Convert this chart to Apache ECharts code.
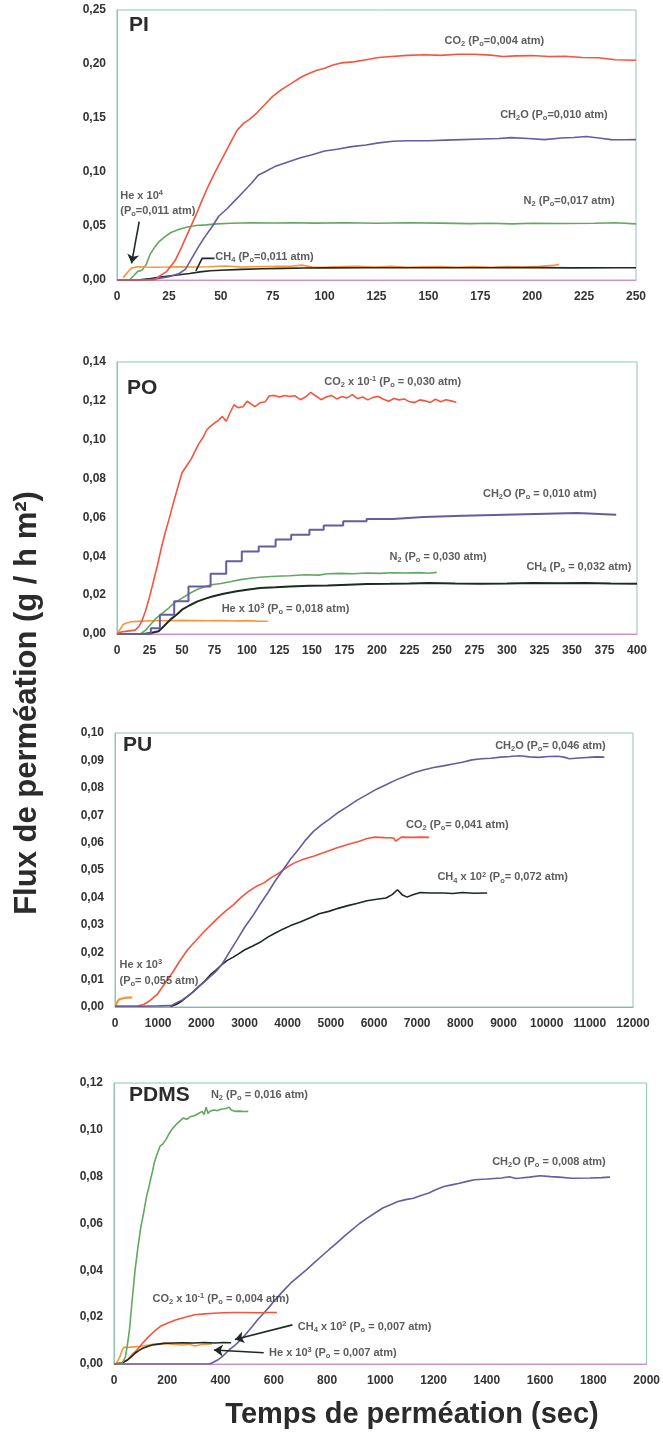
<!DOCTYPE html>
<html><head><meta charset="utf-8">
<script src="https://cdn.jsdelivr.net/npm/echarts@6/dist/echarts.min.js"></script>
<style>html,body{margin:0;padding:0;background:#fff}#c{width:663px;height:1439px}</style>
</head><body><div id="c"></div>
<script>
// ---------- axis ranges ----------
const PANEL_NAMES = ['PI','PO','PU','PDMS'];
const X_MAX = [250, 400, 12000, 2000];
const X_INTERVAL = [25, 25, 1000, 200];
const Y_MAX = [0.25, 0.14, 0.10, 0.12];
const Y_INTERVAL = [0.05, 0.02, 0.01, 0.02];

// ---------- PI ----------
const PI_CO2 = [[0,0],[18,0],[20,0.003],[24,0.008],[28,0.018],[31,0.030],[34,0.043],[38,0.060],[41,0.074],[44,0.087],[47,0.099],[50,0.110],[53,0.121],[56,0.132],[58,0.139],[61,0.145],[64,0.149],[67,0.154],[71,0.162],[75,0.170],[79,0.176],[84,0.182],[88,0.187],[91,0.190],[96,0.194],[100,0.196],[104,0.199],[108,0.201],[114,0.202],[120,0.204],[126,0.206],[132,0.207],[140,0.208],[148,0.2085],[156,0.208],[164,0.209],[172,0.209],[180,0.2082],[186,0.207],[192,0.2075],[200,0.2078],[208,0.207],[216,0.2072],[224,0.206],[232,0.2058],[240,0.204],[250,0.2035]];
const PI_CH2O = [[0,0],[15,0],[20,0.0015],[25,0.003],[30,0.006],[33,0.010],[36,0.020],[39,0.030],[42,0.039],[46,0.050],[49,0.059],[53,0.066],[57,0.074],[61,0.082],[65,0.090],[68,0.097],[72,0.101],[76,0.105],[82,0.109],[88,0.113],[94,0.116],[100,0.1195],[106,0.121],[113,0.1235],[120,0.125],[126,0.127],[133,0.1285],[140,0.129],[150,0.129],[158,0.1295],[166,0.130],[176,0.1306],[184,0.131],[190,0.1318],[198,0.131],[206,0.130],[214,0.1315],[220,0.132],[226,0.1328],[232,0.1315],[238,0.130],[244,0.1298],[250,0.130]];
const PI_N2 = [[0,0],[6,0],[8,0.004],[10,0.008],[12,0.009],[14,0.014],[16,0.024],[18,0.030],[20,0.035],[23,0.040],[26,0.044],[30,0.047],[34,0.049],[38,0.0505],[43,0.051],[48,0.052],[55,0.0525],[65,0.053],[75,0.0528],[85,0.053],[95,0.0527],[110,0.053],[125,0.0525],[140,0.053],[155,0.0527],[170,0.0522],[180,0.0525],[190,0.052],[200,0.0525],[215,0.0523],[230,0.0525],[240,0.053],[250,0.052]];
const PI_HE = [[3,0.002],[5,0.007],[7,0.011],[10,0.0123],[14,0.012],[18,0.0118],[24,0.012],[30,0.0123],[36,0.0121],[44,0.0122],[52,0.013],[60,0.012],[68,0.0125],[76,0.0126],[84,0.0128],[89,0.0138],[94,0.012],[100,0.0118],[108,0.0125],[116,0.0128],[124,0.012],[132,0.0127],[140,0.0118],[148,0.0122],[156,0.0125],[164,0.0118],[172,0.0124],[180,0.0118],[188,0.0125],[196,0.012],[204,0.0126],[210,0.0135],[213,0.0145]];
const PI_CH4 = [[0,0],[10,0],[15,0.001],[20,0.0025],[25,0.0037],[30,0.0048],[35,0.006],[40,0.0075],[45,0.0085],[50,0.009],[60,0.0098],[70,0.0104],[80,0.0108],[90,0.0111],[100,0.0112],[120,0.0114],[140,0.0113],[160,0.0114],[180,0.0113],[200,0.0115],[220,0.0112],[240,0.0114],[250,0.0114]];
const PI_LABELS = [
  ['CO{s|2} (P{s|o}=0,004 atm)', 182, 0.221, 'center'],
  ['CH{s|2}O (P{s|o}=0,010 atm)', 210.7, 0.152, 'center'],
  ['N{s|2} (P{s|o}=0,017 atm)', 218, 0.0725, 'center'],
  ['He x 10{p|4}', 1.8, 0.0778, 'left'],
  ['(P{s|o}=0,011 atm)', 1.8, 0.0639, 'left'],
  ['CH{s|4} (P{s|o}=0,011 atm)', 47.6, 0.0207, 'left']
];
const PI_ARROWS = [[[10.7,0.054],[7,0.0154]]];
const PI_LEADERS = [[[47,0.020],[41,0.020],[38,0.0085]]];

// ---------- PO ----------
const PO_CO2 = [[0,0],[3,0.001],[8,0.0015],[14,0.002],[17,0.004],[19,0.0065],[22,0.012],[25,0.019],[28,0.027],[31,0.035],[34,0.044],[37,0.052],[40,0.059],[44,0.069],[47,0.076],[50,0.083],[54,0.087],[57,0.090],[60,0.094],[63,0.098],[66,0.101],[69,0.105],[72,0.107],[75,0.1086],[78,0.110],[81,0.112],[84,0.1095],[87,0.114],[90,0.118],[93,0.1165],[97,0.117],[100,0.1198],[103,0.1185],[106,0.117],[110,0.119],[114,0.1195],[117,0.1225],[121,0.1228],[125,0.122],[129,0.1228],[133,0.1222],[137,0.1226],[141,0.1206],[145,0.122],[149,0.1244],[153,0.1225],[157,0.1206],[161,0.122],[165,0.1228],[169,0.121],[173,0.1222],[177,0.1215],[181,0.1232],[185,0.1212],[189,0.122],[193,0.1205],[197,0.1218],[201,0.1222],[205,0.1208],[209,0.1198],[213,0.1212],[217,0.1205],[221,0.121],[225,0.1195],[229,0.1192],[233,0.1205],[237,0.12],[241,0.1192],[245,0.1208],[249,0.1195],[253,0.1206],[257,0.12],[261,0.1193]];
const PO_CH2O = [[0,0],[20,0],[26,0.003],[33,0.0099],[44,0.0168],[55,0.0245],[72,0.031],[84,0.0374],[96,0.0425],[109,0.0451],[122,0.0486],[134,0.0511],[148,0.0537],[159,0.0559],[174,0.058],[192,0.0592],[212,0.0602],[236,0.0609],[266,0.0614],[298,0.0623],[354,0.0614],[384,0.0612]];
const PO_N2 = [[0,0],[18,0],[22,0.002],[26,0.005],[30,0.008],[35,0.0108],[40,0.0135],[44,0.016],[50,0.0185],[56,0.021],[62,0.023],[68,0.0245],[74,0.0255],[80,0.026],[88,0.027],[95,0.028],[104,0.0288],[112,0.0293],[122,0.0297],[133,0.030],[145,0.0305],[155,0.0303],[162,0.031],[172,0.0312],[182,0.031],[192,0.0314],[202,0.0312],[212,0.0315],[222,0.0314],[232,0.0316],[240,0.0313],[246,0.0317]];
const PO_CH4 = [[0,0],[20,0],[26,0.0005],[32,0.0014],[36,0.004],[41,0.0074],[46,0.010],[50,0.0125],[56,0.0148],[62,0.0168],[68,0.0182],[74,0.0194],[82,0.0207],[92,0.022],[100,0.0228],[110,0.0237],[122,0.0241],[133,0.0245],[148,0.0248],[162,0.025],[178,0.0254],[192,0.0257],[210,0.0258],[225,0.026],[240,0.0263],[260,0.026],[280,0.0259],[300,0.026],[320,0.0262],[340,0.0261],[360,0.0263],[380,0.026],[400,0.0259]];
const PO_HE = [[0,0],[3,0.003],[5,0.005],[7.4,0.0057],[11,0.0063],[15,0.0065],[22,0.0067],[30,0.0069],[40,0.0068],[50,0.007],[60,0.0069],[70,0.0068],[80,0.0069],[90,0.0067],[100,0.0069],[110,0.0066],[116,0.0066]];
const PO_LABELS = [
  ['CO{s|2} x 10{p|-1} (P{s|o} = 0,030 atm)', 212.5, 0.1295, 'center'],
  ['CH{s|2}O (P{s|o} = 0,010 atm)', 325.6, 0.0717, 'center'],
  ['N{s|2} (P{s|o} = 0,030 atm)', 247.4, 0.0396, 'center'],
  ['CH{s|4} (P{s|o} = 0,032 atm)', 355.7, 0.0345, 'center'],
  ['He x 10{p|3} (P{s|o} = 0,018 atm)', 130, 0.0125, 'center']
];

// ---------- PU ----------
const PU_CH2O = [[0,0.0003],[600,0.0003],[1000,0.0004],[1300,0.0005],[1415,0.0015],[1550,0.0025],[1680,0.0039],[1810,0.0055],[1945,0.0075],[2080,0.0093],[2211,0.0112],[2340,0.013],[2476,0.0155],[2650,0.020],[2830,0.0246],[3000,0.029],[3184,0.0331],[3360,0.0375],[3537,0.0416],[3710,0.046],[3891,0.050],[4068,0.054],[4245,0.0574],[4420,0.061],[4598,0.0641],[4780,0.0665],[4952,0.0684],[5170,0.071],[5394,0.0732],[5610,0.0755],[5837,0.0775],[6060,0.0795],[6279,0.0811],[6500,0.0828],[6721,0.0842],[6940,0.0856],[7163,0.0866],[7380,0.0874],[7605,0.088],[7830,0.0887],[8047,0.0893],[8270,0.0902],[8490,0.0906],[8710,0.0908],[8932,0.0912],[9150,0.0914],[9374,0.0917],[9600,0.0913],[9816,0.0911],[10040,0.0914],[10258,0.0915],[10400,0.0912],[10524,0.0906],[10750,0.0909],[10966,0.0911],[11150,0.0913],[11337,0.0912]];
const PU_CO2 = [[0,0.0003],[500,0.0003],[663,0.0009],[800,0.0022],[973,0.0045],[1150,0.0085],[1326,0.0124],[1500,0.0168],[1680,0.0209],[1860,0.024],[2034,0.027],[2210,0.0298],[2388,0.0325],[2560,0.035],[2741,0.0373],[2920,0.040],[3095,0.0422],[3270,0.044],[3449,0.0453],[3620,0.0472],[3803,0.0489],[3980,0.051],[4156,0.0526],[4380,0.054],[4598,0.055],[4860,0.0565],[5129,0.058],[5390,0.0593],[5659,0.0605],[5840,0.0615],[6013,0.062],[6250,0.0618],[6456,0.0617],[6500,0.0605],[6560,0.0612],[6632,0.062],[6900,0.0619],[7100,0.062],[7278,0.0619]];
const PU_CH4 = [[1282,0.0002],[1415,0.0009],[1550,0.0022],[1680,0.0039],[1810,0.0055],[1945,0.0075],[2080,0.0095],[2211,0.0118],[2340,0.0135],[2476,0.0155],[2600,0.017],[2741,0.0182],[2870,0.0195],[3007,0.0209],[3180,0.0222],[3360,0.0236],[3540,0.0255],[3714,0.027],[3900,0.0285],[4068,0.0297],[4290,0.031],[4510,0.0325],[4730,0.034],[4952,0.0349],[5170,0.036],[5394,0.037],[5600,0.0378],[5837,0.0388],[6060,0.0393],[6279,0.0398],[6420,0.041],[6544,0.0428],[6650,0.041],[6765,0.0401],[6900,0.041],[7075,0.0418],[7300,0.0416],[7605,0.0416],[7830,0.0414],[8047,0.0418],[8300,0.0415],[8622,0.0416]];
const PU_HE = [[20,0.0005],[40,0.0015],[90,0.0027],[160,0.0031],[221,0.0033],[300,0.0034],[398,0.0035]];
const PU_LABELS = [
  ['CH{s|2}O (P{s|o}= 0,046 atm)', 10099, 0.0951, 'center'],
  ['CO{s|2} (P{s|o}= 0,041 atm)', 7941, 0.0662, 'center'],
  ['CH{s|4} x 10{p|2} (P{s|o}= 0,072 atm)', 8993, 0.0471, 'center'],
  ['He x 10{p|3}', 115, 0.0151, 'left'],
  ['(P{s|o}= 0,055 atm)', 115, 0.0094, 'left']
];

// ---------- PDMS ----------
const PDMS_N2 = [[0,0],[29,0],[43,0.0031],[50,0.008],[58,0.0145],[68,0.027],[79,0.040],[90,0.050],[101,0.0587],[112,0.065],[122,0.0715],[130,0.075],[137,0.0787],[144,0.082],[151,0.0858],[160,0.089],[173,0.093],[184,0.094],[195,0.0958],[205,0.098],[216,0.100],[231,0.102],[245,0.1035],[259,0.105],[274,0.1045],[288,0.1057],[302,0.106],[317,0.107],[331,0.1079],[338,0.1065],[346,0.1097],[353,0.107],[360,0.1079],[375,0.1085],[389,0.1082],[403,0.1089],[418,0.109],[432,0.1097],[440,0.1085],[454,0.1079],[470,0.108],[490,0.1078],[504,0.1079]];
const PDMS_CO2 = [[0,0],[30,0.0005],[50,0.0017],[68,0.004],[86,0.006],[108,0.009],[130,0.0117],[152,0.014],[173,0.016],[202,0.0175],[231,0.0188],[267,0.020],[303,0.021],[340,0.0214],[375,0.0217],[411,0.0219],[447,0.022],[490,0.022],[540,0.0219],[580,0.022],[612,0.022]];
const PDMS_CH4 = [[0,0],[29,0.0003],[50,0.0017],[65,0.003],[79,0.0046],[94,0.0058],[108,0.0067],[126,0.0075],[144,0.0081],[165,0.0085],[187,0.0088],[220,0.009],[259,0.0091],[300,0.009],[340,0.0092],[380,0.009],[410,0.0092],[440,0.0091]];
const PDMS_HE = [[7,0],[15,0.0015],[22,0.003],[29,0.0055],[36,0.0071],[60,0.0072],[86,0.0074],[108,0.0077],[130,0.0081],[150,0.0085],[170,0.0083],[187,0.0088],[210,0.0086],[230,0.0083],[259,0.0081],[280,0.0085],[303,0.0077],[325,0.0082],[345,0.0085],[367,0.0086]];
const PDMS_CH2O = [[0,0],[200,0],[360,0],[367,0.0003],[389,0.0017],[410,0.0035],[432,0.006],[454,0.008],[476,0.0103],[497,0.013],[519,0.016],[540,0.019],[562,0.0217],[584,0.0245],[605,0.0274],[634,0.031],[663,0.0345],[691,0.0372],[720,0.040],[749,0.043],[778,0.0459],[807,0.0488],[836,0.0516],[864,0.0545],[893,0.0573],[922,0.060],[951,0.0623],[980,0.0645],[1009,0.0666],[1038,0.068],[1066,0.0694],[1095,0.0702],[1124,0.0708],[1153,0.072],[1182,0.073],[1210,0.0745],[1239,0.0758],[1268,0.0765],[1297,0.0772],[1326,0.078],[1354,0.0787],[1400,0.079],[1455,0.0794],[1484,0.080],[1510,0.0792],[1527,0.0794],[1560,0.0798],[1599,0.0804],[1640,0.08],[1671,0.0798],[1720,0.0793],[1787,0.0794],[1830,0.0796],[1862,0.0798]];
const PDMS_LABELS = [
  ['N{s|2} (P{s|o} = 0,016 atm)', 548, 0.1146, 'center'],
  ['CH{s|2}O (P{s|o} = 0,008 atm)', 1635, 0.086, 'center'],
  ['CO{s|2} x 10{p|-1} (P{s|o} = 0,004 atm)', 403, 0.0274, 'center'],
  ['CH{s|4} x 10{p|2} (P{s|o} = 0,007 atm)', 692, 0.0155, 'left'],
  ['He x 10{p|3} (P{s|o} = 0,007 atm)', 584, 0.0046, 'left']
];
const PDMS_ARROWS = [[[670,0.0167],[454,0.0105]], [[562,0.0048],[375,0.006]]];

// ---------- styling ----------
const FONT = "'Liberation Sans', Arial, sans-serif";
const C = {co2:'#f5553f', ch2o:'#675c9c', n2:'#62a85e', ch4:'#1c2a20', he:'#f5963a'};
const GRIDS = [
  {left:117, top:10, width:519, height:270},
  {left:117, top:362, width:520, height:272},
  {left:115, top:733, width:518, height:274},
  {left:114, top:1083, width:533, height:281}
];
const TITLE_POS = [[129,15],[127,378],[123,735],[129,1085]];

const fmtY = v => v.toFixed(2).replace('.', ',');
const fmtX = v => String(v);

const option = {
  animation:false,
  backgroundColor:'#fff',
  title: PANEL_NAMES.map((n,i)=>({text:n, left:TITLE_POS[i][0], top:TITLE_POS[i][1], padding:0,
    textStyle:{fontFamily:FONT, fontSize:21, fontWeight:'bold', color:'#2b2b2b'}})),
  grid: GRIDS.map(g=>Object.assign({show:true, borderColor:'#93c3b6', borderWidth:1, backgroundColor:'transparent'}, g)),
  xAxis: PANEL_NAMES.map((n,i)=>({type:'value', gridIndex:i, min:0, max:X_MAX[i], interval:X_INTERVAL[i],
    axisLine:{show:true, onZero:false, lineStyle:{color:'#c890c8', width:1}},
    axisTick:{show:false}, splitLine:{show:false},
    axisLabel:{margin:11, fontFamily:FONT, fontSize:12, fontWeight:'bold', color:'#333', formatter:fmtX}})),
  yAxis: PANEL_NAMES.map((n,i)=>({type:'value', gridIndex:i, min:0, max:Y_MAX[i], interval:Y_INTERVAL[i],
    axisLine:{show:true, lineStyle:{color:'#93c3b6', width:1}},
    axisTick:{show:false}, splitLine:{show:false},
    axisLabel:{margin:11, fontFamily:FONT, fontSize:12, fontWeight:'bold', color:'#333', formatter:fmtY}})),
  graphic:[
    {type:'text', x:27, y:703, rotation:Math.PI/2, style:{text:'Flux de perméation (g / h m²)', fontFamily:FONT, fontSize:31, fontWeight:'bold', fill:'#2b2b2b', align:'center', verticalAlign:'middle'}},
    {type:'text', x:412, y:1415, style:{text:'Temps de perméation (sec)', fontFamily:FONT, fontSize:29, fontWeight:'bold', fill:'#2b2b2b', align:'center', verticalAlign:'middle'}}
  ],
  series:[]
};

function line(i, data, color, extra){
  option.series.push(Object.assign({type:'line', xAxisIndex:i, yAxisIndex:i, data:data, showSymbol:false, symbol:'none',
    lineStyle:{color:color, width:1.6}, itemStyle:{color:color}, silent:true, z:3}, extra||{}));
}
function labels(i, list){
  option.series.push({type:'scatter', xAxisIndex:i, yAxisIndex:i, symbolSize:1, itemStyle:{color:'rgba(0,0,0,0)'}, silent:true, z:5,
    data:list.map(l=>({value:[l[1],l[2]], label:{align:l[3]}, name:l[0]})),
    label:{show:true, position:[0,0], verticalAlign:'middle', formatter:p=>p.name,
      fontFamily:FONT, fontSize:11, fontWeight:'bold', color:'#333', lineHeight:14,
      rich:{s:{fontFamily:FONT, fontSize:7.5, fontWeight:'bold', color:'#333', verticalAlign:'bottom', lineHeight:10, padding:[4,0,0,0]},
            p:{fontFamily:FONT, fontSize:7.5, fontWeight:'bold', color:'#333', verticalAlign:'top', lineHeight:10, padding:[0,0,4,0]}}}});
}
function arrows(i, list, withHead){
  option.series.push({type:'lines', coordinateSystem:'cartesian2d', xAxisIndex:i, yAxisIndex:i, polyline:!withHead, silent:true, z:6,
    symbol: withHead ? ['none','arrow'] : ['none','none'], symbolSize:[6,9],
    lineStyle:{color:'#1f2a24', width:1.6, opacity:1},
    data:list.map(c=>({coords:c}))});
}

// PI
line(0, PI_N2, C.n2); line(0, PI_HE, C.he); line(0, PI_CH4, C.ch4); line(0, PI_CH2O, C.ch2o); line(0, PI_CO2, C.co2);
labels(0, PI_LABELS); arrows(0, PI_ARROWS, true); arrows(0, PI_LEADERS, false);
// PO
line(1, PO_HE, C.he); line(1, PO_N2, C.n2); line(1, PO_CH4, C.ch4, {lineStyle:{color:C.ch4, width:2}}); line(1, PO_CH2O, C.ch2o, {step:'end', lineStyle:{color:C.ch2o, width:2}}); line(1, PO_CO2, C.co2);
labels(1, PO_LABELS);
// PU
line(2, PU_HE, C.he, {lineStyle:{color:C.he, width:2.2}}); line(2, PU_CH4, C.ch4); line(2, PU_CO2, C.co2); line(2, PU_CH2O, C.ch2o);
labels(2, PU_LABELS);
// PDMS
line(3, PDMS_CH2O, C.ch2o); line(3, PDMS_HE, C.he); line(3, PDMS_CO2, C.co2); line(3, PDMS_CH4, C.ch4); line(3, PDMS_N2, C.n2);
labels(3, PDMS_LABELS); arrows(3, PDMS_ARROWS, true);

const chart = echarts.init(document.getElementById('c'), null, {renderer:'canvas'});
chart.setOption(option);
</script>
</body></html>
